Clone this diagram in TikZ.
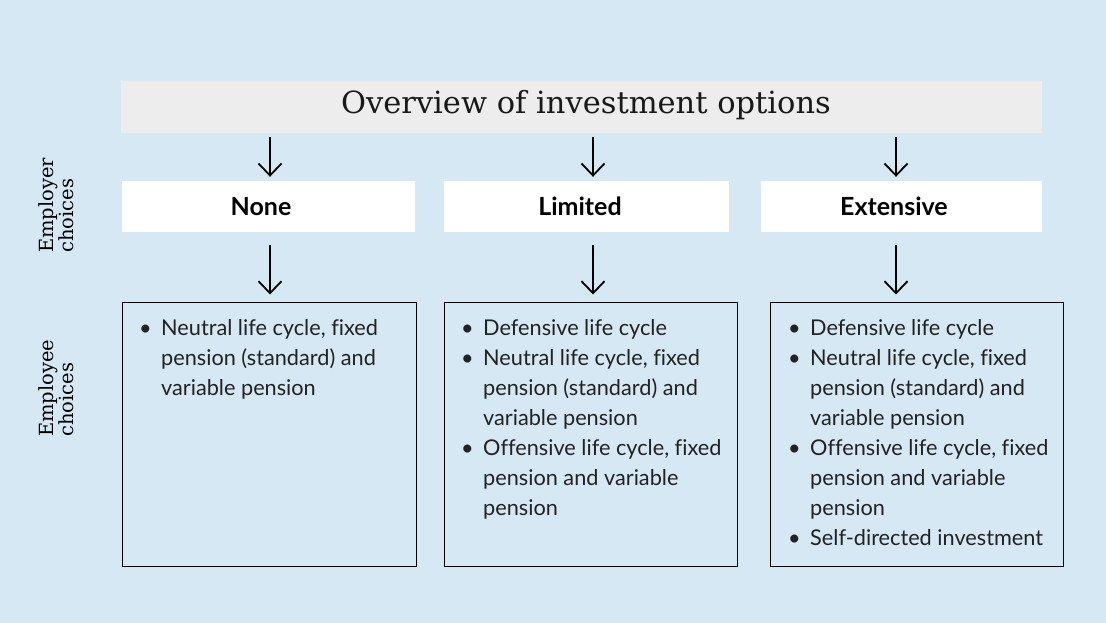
\documentclass[tikz,border=0pt]{standalone}
\usepackage{fontspec}
\usetikzlibrary{arrows.meta,calc}
\newfontfamily\latof[Ligatures=NoCommon]{Lato}
\newfontfamily\slabf{DejaVu Serif}
\definecolor{bgblue}{HTML}{D6E8F4}
\definecolor{titlegray}{HTML}{EDEDED}
\definecolor{bodytxt}{HTML}{222222}
\tikzset{
  arr/.style={line width=1.8pt, -{Straight Barb[length=12pt,width=23pt,line width=1.8pt]}},
  titlebox/.style={fill=titlegray, draw=none, minimum width=921pt, minimum height=52pt, inner sep=0pt},
  headbox/.style={fill=white, draw=none, minimum height=51pt, inner sep=0pt},
  headtxt/.style={font=\latof\bfseries\fontsize{25}{30}\selectfont, text=black, inner sep=0pt},
  contbox/.style={fill=bgblue, draw=black, line width=1pt, minimum width=293pt, minimum height=264pt, inner sep=0pt},
  conttxt/.style={font=\latof\fontsize{21.7}{30}\selectfont, text=bodytxt, inner sep=0pt, anchor=base west},
  sidetxt/.style={font=\slabf\fontsize{19.5}{20}\selectfont, text=black, inner sep=0pt, rotate=90, anchor=base west},
}
\newcommand{\bul}{\makebox[22pt][l]{\textbullet}}
\begin{document}
\begin{tikzpicture}[x=1pt,y=-1pt]
\useasboundingbox (0,0) rectangle (1106,623);
\fill[bgblue] (0,0) rectangle (1106,623);

% title
\node[titlebox] (title) at (581.5,107) {};
\node[font=\slabf\fontsize{30.5}{36}\selectfont, text=black!90, inner sep=0pt] (ttl) at (586,105) {Overview of investment options};

% headers
\node[headbox, minimum width=293pt] (hn) at (268.5,206.5) {};
\node[headbox, minimum width=285pt] (hl) at (586.5,206.5) {};
\node[headbox, minimum width=281pt] (he) at (901.5,206.5) {};
\node[headtxt] (tn) at (261,206.5) {None};
\node[headtxt] (tl) at (580,206.5) {Limited};
\node[headtxt] (te) at (894,206.5) {Extensive};

% content boxes
\node[contbox, minimum width=294pt] (cn) at (269,434) {};
\node[contbox] (cl) at (590.5,434) {};
\node[contbox] (ce) at (916.5,434) {};

\node[conttxt] (xn) at (139,335) {\begin{tabular}[t]{@{}l@{}l@{}}
\bul & Neutral life cycle, fixed\\
 & pension (standard) and\\
 & variable pension
\end{tabular}};
\node[conttxt] (xl) at (461,335) {\begin{tabular}[t]{@{}l@{}l@{}}
\bul & Defensive life cycle\\
\bul & Neutral life cycle, fixed\\
 & pension (standard) and\\
 & variable pension\\
\bul & Offensive life cycle, fixed\\
 & pension and variable\\
 & pension
\end{tabular}};
\node[conttxt] (xe) at (788,335) {\begin{tabular}[t]{@{}l@{}l@{}}
\bul & Defensive life cycle\\
\bul & Neutral life cycle, fixed\\
 & pension (standard) and\\
 & variable pension\\
\bul & Offensive life cycle, fixed\\
 & pension and variable\\
 & pension\\
\bul & Self-directed investment
\end{tabular}};

% side labels
\node[sidetxt] (s1) at (53,253) {\begin{tabular}[t]{@{}l@{}}Employer\\choices\end{tabular}};
\node[sidetxt] (s2) at (53,437) {\begin{tabular}[t]{@{}l@{}}Employee\\choices\end{tabular}};

% arrows
\coordinate (a1) at (270,0);
\coordinate (a2) at (593,0);
\coordinate (a3) at (896,0);
\draw[arr] ($(title.south -| a1)+(0,4)$) -- ($(hn.north -| a1)+(0,-4)$);
\draw[arr] ($(title.south -| a2)+(0,4)$) -- ($(hl.north -| a2)+(0,-4)$);
\draw[arr] ($(title.south -| a3)+(0,4)$) -- ($(he.north -| a3)+(0,-4)$);
\draw[arr] ($(hn.south -| a1)+(0,13)$) -- ($(cn.north -| a1)+(0,-7)$);
\draw[arr] ($(hl.south -| a2)+(0,13)$) -- ($(cl.north -| a2)+(0,-7)$);
\draw[arr] ($(he.south -| a3)+(0,13)$) -- ($(ce.north -| a3)+(0,-7)$);
\end{tikzpicture}
\end{document}
